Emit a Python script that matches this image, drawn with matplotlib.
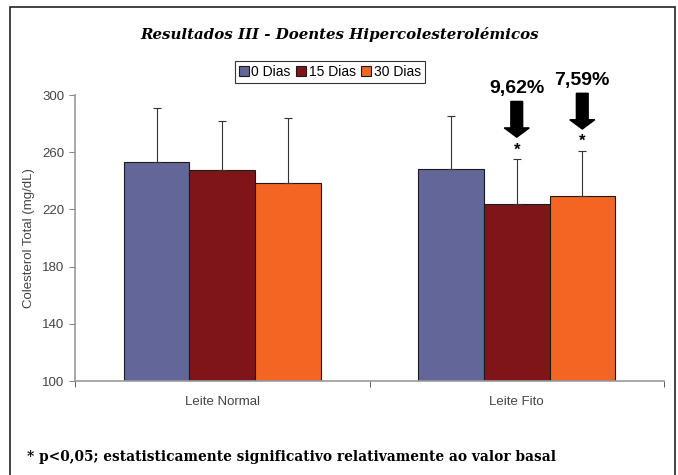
from matplotlib import pyplot as plt
from matplotlib.patches import Rectangle, FancyArrow
import numpy as np

plt.rcParams["font.family"] = ["Liberation Sans", "DejaVu Sans"]

# cholesterol values (mg/dL)
groups = ["Leite Normal", "Leite Fito"]
series = ["0 Dias", "15 Dias", "30 Dias"]
means = {
    "0 Dias":  [253, 248],
    "15 Dias": [247.5, 224],
    "30 Dias": [238.5, 229.2],
}
sd = {
    "0 Dias":  [38, 37],
    "15 Dias": [34.5, 31],
    "30 Dias": [45.5, 31.5],
}
reductions = {"15 Dias": "9,62%", "30 Dias": "7,59%"}

COLORS = {"0 Dias": "#636699", "15 Dias": "#801519", "30 Dias": "#f26522"}
W, H = 678, 475

fig = plt.figure(figsize=(W / 100, H / 100), dpi=100)
ax = fig.add_axes([75 / W, 1 - 381 / H, (664 - 75) / W, (381 - 95) / H])

# outer frame
fig.patches.append(Rectangle((10 / W, -0.05), 665 / W, 1.05 - 7 / H, transform=fig.transFigure,
                             fill=False, edgecolor="#222222", linewidth=1.2))

x = np.arange(len(groups))
bw = 0.2225
for i, s in enumerate(series):
    xs = x + (i - 1) * bw
    ax.bar(xs, np.array(means[s]) - 100, bottom=100, width=bw, color=COLORS[s],
           edgecolor="#1a1a1a", linewidth=0.8, label=s, zorder=2)
    ax.errorbar(xs, means[s], yerr=[np.zeros(len(xs)), sd[s]], fmt="none",
                ecolor="#333333", elinewidth=0.8, capsize=3, capthick=0.8, zorder=3)

# significance arrows over Leite Fito
for s in ["15 Dias", "30 Dias"]:
    i = series.index(s)
    xc = x[1] + (i - 1) * bw
    top = means[s][1] + sd[s][1]
    tip = top + 15.5
    tail = tip + 25
    ax.add_patch(FancyArrow(xc, tail, 0, tip - tail, width=0.04, head_width=0.085,
                            head_length=6.5, length_includes_head=True,
                            color="black", zorder=4, clip_on=False))
    ax.text(xc, top + 3.5, "*", ha="center", va="baseline", fontsize=12, fontweight="bold")
    ax.text(xc, tail + 3, reductions[s], ha="center", va="bottom", fontsize=14,
            fontweight="bold", clip_on=False)

ax.set_xlim(-0.5, 1.5)
ax.set_ylim(100, 300)
ax.set_yticks(np.arange(100, 301, 40))
ax.set_xticks(x)
ax.set_xticklabels(groups)
ax.set_xticks([-0.5, 0.5, 1.5], minor=True)
ax.tick_params(axis="x", which="major", length=0, pad=11, labelsize=9.5, labelcolor="#444444")
ax.tick_params(axis="x", which="minor", length=4, direction="out", color="#444444")
ax.tick_params(axis="y", length=4, direction="out", color="#888888", labelsize=9.5,
               labelcolor="#444444")
for sp in ["top", "right"]:
    ax.spines[sp].set_visible(False)
for sp in ["left", "bottom"]:
    ax.spines[sp].set_color("#999999")
    ax.spines[sp].set_linewidth(1.2)
ax.set_ylabel("Colesterol Total (mg/dL)", fontsize=9.5, color="#444444", labelpad=5)

leg = ax.legend(loc="center", bbox_to_anchor=(330 / W, 1 - 72 / H), bbox_transform=fig.transFigure,
                ncol=3, frameon=True, fancybox=False, edgecolor="black", fontsize=10,
                handlelength=0.7, handleheight=0.7, handletextpad=0.2, columnspacing=0.4,
                borderpad=0.3)
leg.get_frame().set_linewidth(0.8)

fig.text(340 / W, 1 - 35 / H, "Resultados III - Doentes Hipercolesterolémicos",
         ha="center", va="center", fontsize=10.8, fontweight="bold", style="italic",
         family="DejaVu Serif")
fig.text(27 / W, 1 - 457 / H, "* p<0,05; estatisticamente significativo relativamente ao valor basal",
         ha="left", va="center", fontsize=9.9, fontweight="bold", family="DejaVu Serif")

fig.savefig("out.png", dpi=100)
